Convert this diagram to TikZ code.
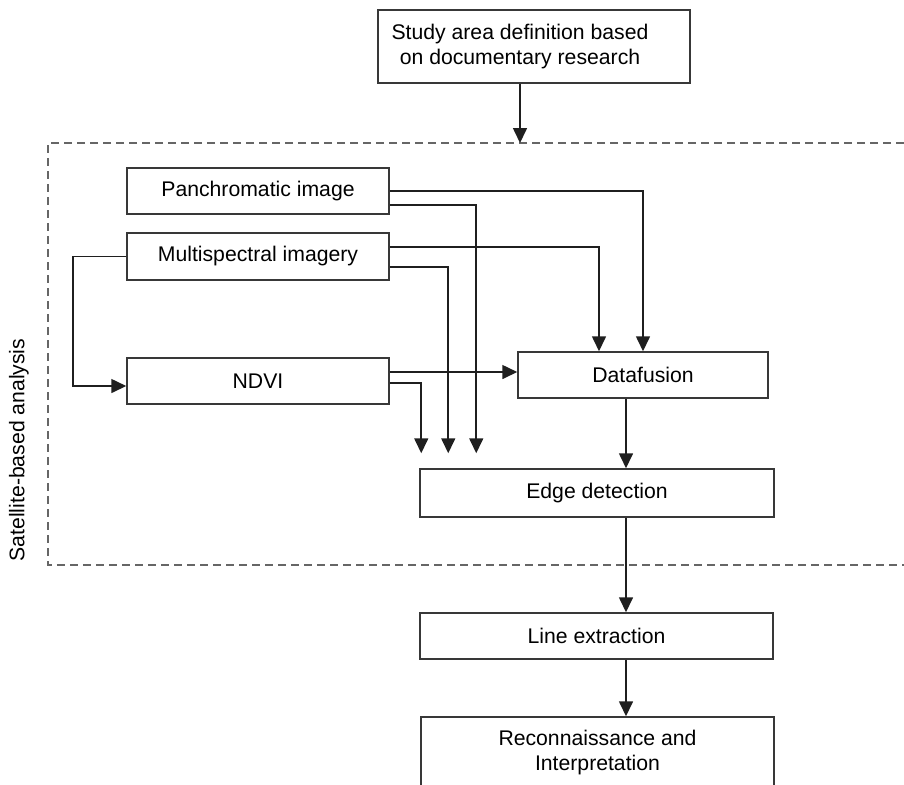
\documentclass[tikz,border=0pt]{standalone}
\usepackage{fontspec}
\setmainfont{Liberation Sans}
\usepackage{tikz}
\usetikzlibrary{arrows.meta, positioning, calc}
\definecolor{boxgray}{rgb}{0.22, 0.22, 0.22}
\definecolor{dashgray}{rgb}{0.40, 0.40, 0.40}

\begin{document}
\begin{tikzpicture}[x=0.5pt, y=-0.5pt, >={Triangle[length=7.5pt, width=7pt]},
    box/.style={draw=boxgray, line width=0.75pt, minimum height=23pt, inner sep=0pt,
        font=\fontsize{10.6}{12.5}\selectfont, align=center},
    link/.style={->, line width=0.8pt, black!88},
    frame/.style={dashgray, line width=0.75pt, dash pattern=on 4pt off 2.5pt}]
    \useasboundingbox (0,0) rectangle (904,784);
    % Top box
    \node [box, minimum width=156pt, minimum height=36.5pt] (study) at (534,46.5) {};
    \node [font=\fontsize{10.6}{12.5}\selectfont, align=center, inner sep=0pt] (studytext) at (520,46.5)
        {Study area definition based\\on documentary research};
    % Satellite frame (open to the right)
    \coordinate (frametop) at (520,143);
    \draw [frame] (904,143) -- (48,143) -- (48,565) -- (904,565);
    \node [rotate=90, font=\fontsize{10.6}{12.5}\selectfont] (satlabel) at (19,450) {Satellite-based analysis};
    % Inputs
    \node [box, minimum width=131pt] (pan) at (258,191) {Panchromatic image};
    \node [box, minimum width=131pt, minimum height=23.5pt] (multi) at (258,256.5) {Multispectral imagery};
    \node [box, minimum width=131pt] (ndvi) at (258,381) {NDVI};
    % Processing
    \node [box, minimum width=125pt] (fusion) at (643,375) {Datafusion};
    \node [box, minimum width=177pt, minimum height=24pt] (edge) at (597,493) {Edge detection};
    \node [box, minimum width=176.5pt] (line) at (596.5,636) {Line extraction};
    \node [box, minimum width=176.5pt, minimum height=35pt] (recon) at (597.5,752)
        {Reconnaissance and\\Interpretation};
    \coordinate (spine) at ([xshift=-8.5pt]fusion.south);
    % Connectors
    \draw [link] (study.south -| studytext) -- (frametop);
    \draw [link] (pan.east) -| (fusion.north);
    \draw [link] ([yshift=4.75pt]multi.east) -| ([xshift=-22pt]fusion.north);
    \draw [link] ([yshift=4.5pt]ndvi.east) -- ([yshift=4.5pt]ndvi.east -| fusion.west);
    \draw [link] (multi.west) -- ++(-26.5pt,0) |- ([yshift=-2.5pt]ndvi.west);
    \draw [link] ([yshift=-7pt]pan.east) -| ([xshift=28.5pt, yshift=7.5pt]edge.north west);
    \draw [link] ([yshift=-5.25pt]multi.east) -| ([xshift=14.5pt, yshift=7.5pt]edge.north west);
    \draw [link] ([yshift=-1pt]ndvi.east) -| ([xshift=1pt, yshift=7.5pt]edge.north west);
    \draw [link] (spine) -- (edge.north -| spine);
    \draw [link] (edge.south -| spine) -- (line.north -| spine);
    \draw [link] (line.south -| spine) -- (recon.north -| spine);
\end{tikzpicture}
\end{document}
